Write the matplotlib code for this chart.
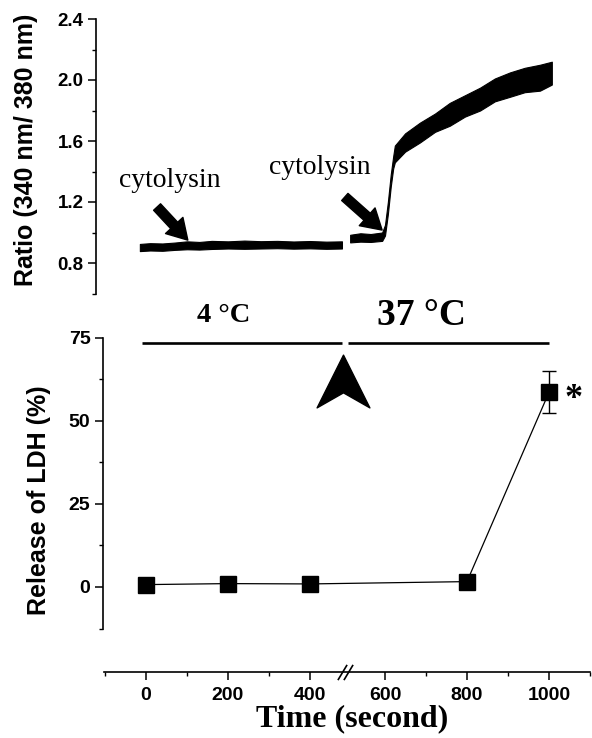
import numpy as np
import matplotlib
matplotlib.use("Agg")
import matplotlib.pyplot as plt
from matplotlib.ticker import FixedLocator, MultipleLocator
from matplotlib.path import Path

# ---------------- data ----------------
# Ca2+ ratio trace, drawn as the envelope of the noisy signal
trace1_t  = [-15, 10, 40, 70, 100, 130, 160, 200, 240, 280, 320, 360, 400, 440, 478]
trace1_lo = [0.878, 0.882, 0.880, 0.886, 0.890, 0.888, 0.892, 0.895, 0.893, 0.895, 0.897, 0.894, 0.896, 0.893, 0.895]
trace1_hi = [0.925, 0.930, 0.928, 0.934, 0.942, 0.938, 0.945, 0.942, 0.947, 0.943, 0.945, 0.941, 0.944, 0.940, 0.942]

trace2_t  = [515, 540, 565, 593, 600, 607, 614, 620, 624, 649, 685, 722, 758, 795, 832, 868, 905, 941, 978, 1007]
trace2_lo = [0.935, 0.940, 0.938, 0.945, 0.980, 1.12, 1.30, 1.42, 1.46, 1.53, 1.59, 1.66, 1.70, 1.76, 1.80, 1.86, 1.89, 1.92, 1.93, 1.97]
trace2_hi = [0.985, 0.995, 0.990, 1.000, 1.050, 1.20, 1.38, 1.50, 1.57, 1.65, 1.72, 1.78, 1.85, 1.90, 1.95, 2.01, 2.05, 2.08, 2.10, 2.12]

# LDH release
ldh_time    = [0, 200, 400, 800, 1000]
ldh_release = [0.7, 1.0, 0.9, 1.6, 58.5]
ldh_err     = [0, 0, 0, 0, 6.3]

time_ticks  = [0, 200, 400, 600, 800, 1000]
time_minor  = [-100, 100, 300, 700, 900, 1100]
ratio_ticks = [0.8, 1.2, 1.6, 2.0, 2.4]
ldh_ticks   = [0, 25, 50, 75]

temp_labels = ["4 °C", "37 °C"]
stim_label  = "cytolysin"

# ---------------- broken time scale ----------------
BRK_LO, BRK_HI = 485.0, 502.0

def fwd(t):
    t = np.asarray(t, dtype=float)
    return np.where(t <= BRK_LO, t, np.where(t >= BRK_HI, t - (BRK_HI - BRK_LO), BRK_LO))

def inv(u):
    u = np.asarray(u, dtype=float)
    return np.where(u <= BRK_LO, u, u + (BRK_HI - BRK_LO))

XLIM = (-122, 1105)

plt.rcParams["font.family"] = ["Liberation Sans", "DejaVu Sans"]
SERIF = ["Liberation Serif", "DejaVu Serif"]

W, H = 592, 738
fig = plt.figure(figsize=(W / 100, H / 100), dpi=100)

def box(x0, y0, x1, y1):
    return [x0 / W, 1 - y1 / H, (x1 - x0) / W, (y1 - y0) / H]

ax_top = fig.add_axes(box(96, 19, 592, 293.5))
ax_mid = fig.add_axes(box(96, 337.5, 592, 628.5))
ax_bot = fig.add_axes(box(96, 671, 592, 672))

for ax in (ax_top, ax_mid, ax_bot):
    ax.set_xscale("function", functions=(fwd, inv))
    ax.set_xlim(*XLIM)
    ax.set_facecolor("none")
    for s in ("top", "right"):
        ax.spines[s].set_visible(False)
    for s in ax.spines.values():
        s.set_linewidth(1.2)

# ---------------- top panel: ratio trace ----------------
ax_top.fill_between(trace1_t, trace1_lo, trace1_hi, color="black", lw=0.8, edgecolor="black")
ax_top.fill_between(trace2_t, trace2_lo, trace2_hi, color="black", lw=0.8, edgecolor="black")
ax_top.set_ylim(0.6, 2.4)
ax_top.spines["bottom"].set_visible(False)
ax_top.set_xticks([])
ax_top.yaxis.set_major_locator(FixedLocator(ratio_ticks))
ax_top.yaxis.set_minor_locator(MultipleLocator(0.2))
ax_top.tick_params(axis="y", which="major", length=6, width=1.1, labelsize=13.5, pad=3)
ax_top.tick_params(axis="y", which="minor", length=3, width=1.0)
for lbl in ax_top.get_yticklabels():
    lbl.set_fontweight("bold")

arrow_kw = dict(arrowstyle="simple,head_length=0.8,head_width=0.95,tail_width=0.38",
                fc="black", ec="black", shrinkA=0, shrinkB=0, mutation_scale=18)
ax_top.annotate("", xy=(102, 0.95), xytext=(27, 1.167), arrowprops=arrow_kw)
ax_top.annotate("", xy=(593, 1.016), xytext=(485, 1.233), arrowprops=arrow_kw)
ax_top.text(58, 1.34, stim_label, family=SERIF, fontsize=20, ha="center", va="center")
ax_top.text(424, 1.425, stim_label, family=SERIF, fontsize=20, ha="center", va="center")

fig.text(26 / W, 1 - 150 / H, "Ratio (340 nm/ 380 nm)", rotation=90, ha="center",
         va="center", fontsize=18, fontweight="bold")

# ---------------- middle panel: LDH release ----------------
ax_mid.errorbar(ldh_time, ldh_release, yerr=ldh_err, fmt="s-", color="black",
                ms=11.5, lw=0.9, elinewidth=1.0, capsize=5, capthick=1.0, clip_on=False)
ax_mid.set_ylim(-12.5, 75)
ax_mid.spines["bottom"].set_visible(False)
ax_mid.spines["left"].set_position(("data", -105))
ax_mid.set_xticks([])
ax_mid.yaxis.set_major_locator(FixedLocator(ldh_ticks))
ax_mid.yaxis.set_minor_locator(MultipleLocator(12.5))
ax_mid.tick_params(axis="y", which="major", length=6, width=1.1, labelsize=14, pad=3)
ax_mid.tick_params(axis="y", which="minor", length=3, width=1.0)
for lbl in ax_mid.get_yticklabels():
    lbl.set_fontweight("bold")

ax_mid.annotate("*", xy=(1000, ldh_release[-1]), xytext=(11, -5), textcoords="offset points",
                family=SERIF, fontsize=26, fontweight="bold", ha="left", va="center")

# temperature bars and labels
ax_mid.plot([-10, 478], [73.4, 73.4], color="black", lw=1.9, solid_capstyle="butt", clip_on=False)
ax_mid.plot([510, 1000], [73.4, 73.4], color="black", lw=1.9, solid_capstyle="butt", clip_on=False)
ax_mid.text(190, 81.6, temp_labels[0], family=SERIF, fontsize=20.5, fontweight="bold",
            ha="center", va="center")
ax_mid.text(688, 81.6, temp_labels[1], family=SERIF, fontsize=27, fontweight="bold",
            ha="center", va="center")

chevron = Path([(0, 1), (1, -1), (0, -0.43), (-1, -1), (0, 1)],
               [Path.MOVETO, Path.LINETO, Path.LINETO, Path.LINETO, Path.CLOSEPOLY])
ax_mid.plot([480.5], [61.9], marker=chevron, ms=38, color="black", ls="none", clip_on=False)

fig.text(39 / W, 1 - 500 / H, "Release of LDH (%)", rotation=90, ha="center",
         va="center", fontsize=18, fontweight="bold")

# ---------------- bottom: time axis ----------------
ax_bot.set_ylim(0, 1)
ax_bot.spines["left"].set_visible(False)
ax_bot.set_yticks([])
ax_bot.spines["bottom"].set_bounds(-102, 1100)
ax_bot.xaxis.set_major_locator(FixedLocator(time_ticks))
ax_bot.xaxis.set_minor_locator(FixedLocator(time_minor))
ax_bot.tick_params(axis="x", which="major", length=6, width=1.1, labelsize=14, pad=5)
ax_bot.tick_params(axis="x", which="minor", length=3, width=1.0)
for lbl in ax_bot.get_xticklabels():
    lbl.set_fontweight("bold")
brk_kw = dict(marker=[(-0.6, -1), (0.6, 1)], ms=11, mew=1.2, color="black",
              mec="black", ls="none", clip_on=False)
ax_bot.plot([478, 509], [0, 0], **brk_kw)
fig.text(352 / W, 1 - 719 / H, "Time (second)", family=SERIF, fontsize=23,
         fontweight="bold", ha="center", va="center")

fig.savefig("out.png", dpi=100)
